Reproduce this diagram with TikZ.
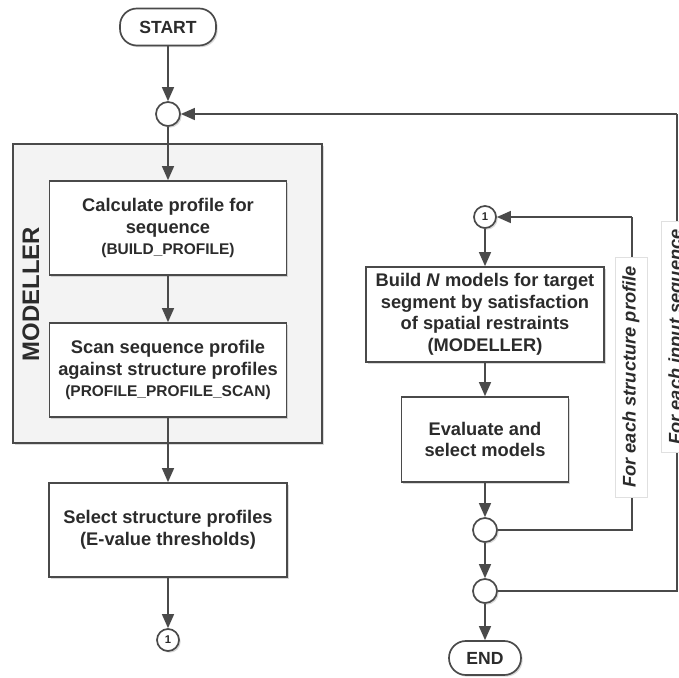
\documentclass[tikz,border=0pt]{standalone}
\usepackage{fontspec}
\setmainfont{Liberation Sans}
\usetikzlibrary{arrows.meta,shadows}
\definecolor{linegray}{HTML}{4A4A4A}
\definecolor{textgray}{HTML}{2B2B2B}
\definecolor{panelgray}{HTML}{F3F3F3}
\definecolor{tagedge}{HTML}{E0E0E0}
\newcommand{\idtag}[1]{{\fontsize{11}{13}\selectfont #1}}

\begin{document}
\begin{tikzpicture}[x=0.025cm, y=-0.025cm,
    shade/.style={drop shadow={shadow xshift=1.2pt, shadow yshift=-1.2pt, opacity=0.3}},
    stepbox/.style={draw=linegray, line width=1.2pt, fill=white, shade, align=center,
      inner sep=0pt, text=textgray, font=\bfseries\fontsize{13}{15.3}\selectfont},
    terminal/.style={draw=linegray, line width=1.2pt, fill=white, shade, rounded corners=12pt,
      inner sep=0pt, text=textgray, font=\bfseries\fontsize{12.5}{15}\selectfont},
    joint/.style={circle, draw=linegray, line width=1.2pt, fill=white, shade,
      minimum size=0.6cm, inner sep=0pt},
    pageref/.style={circle, draw=linegray, line width=1.2pt, fill=white, shade,
      minimum size=0.55cm, inner sep=0pt, text=textgray, font=\bfseries\fontsize{8}{9}\selectfont},
    looptag/.style={fill=white, draw=tagedge, line width=0.5pt, rotate=90, minimum height=0.8cm,
      inner sep=0pt, text=textgray, font=\bfseries\itshape\fontsize{13}{15}\selectfont},
    flow/.style={draw=linegray, line width=1.2pt, -{Triangle[length=10pt,width=8.5pt]}},
    loopline/.style={draw=linegray, line width=1.2pt}
  ]
  \useasboundingbox (0,0) rectangle (679,678);

  % caja MODELLER
  \node[draw=linegray, line width=1.2pt, fill=panelgray, shade, minimum width=7.725cm,
    minimum height=7.475cm, inner sep=0pt] (panel) at (167.5,293.5) {};
  \node[rotate=90, text=textgray, font=\bfseries\fontsize{17}{20}\selectfont] (paneltitle) at (31,294) {MODELLER};

  % columna izquierda
  \node[terminal, minimum width=2.4cm, minimum height=0.925cm] (start) at (168,27) {START};
  \node[joint] (j0) at (168,114) {};
  \node[stepbox, minimum width=5.925cm, minimum height=2.35cm] (prof) at (168,228)
    {Calculate profile for\\sequence\\\idtag{(BUILD\_PROFILE)}};
  \node[stepbox, minimum width=5.925cm, minimum height=2.35cm] (scan) at (168,370)
    {Scan sequence profile\\against structure profiles\\\idtag{(PROFILE\_PROFILE\_SCAN)}};
  \node[stepbox, minimum width=5.95cm, minimum height=2.35cm] (select) at (168,530)
    {Select structure profiles\\(E-value thresholds)};
  \node[pageref] (ref1a) at (168,640) {1};

  % columna derecha
  \node[pageref] (ref1b) at (485,217) {1};
  \node[stepbox, minimum width=5.95cm, minimum height=2.375cm] (build) at (485,314.5)
    {Build \textit{N} models for target\\segment by satisfaction\\of spatial restraints\\(MODELLER)};
  \node[stepbox, minimum width=4.175cm, minimum height=2.125cm] (evaluate) at (485,439.5)
    {Evaluate and\\select models};
  \node[joint] (j2) at (485,530) {};
  \node[joint] (j3) at (485,591) {};
  \node[terminal, minimum width=1.8cm, minimum height=0.85cm] (end) at (485,658) {END};

  % flechas
  \draw[flow] (start) -- (j0);
  \draw[flow] (j0) -- (prof);
  \draw[flow] (prof) -- (scan);
  \draw[flow] (scan) -- (select);
  \draw[flow] (select) -- (ref1a);
  \draw[flow] (ref1b) -- (build);
  \draw[flow] (build) -- (evaluate);
  \draw[flow] (evaluate) -- (j2);
  \draw[flow] (j2) -- (j3);
  \draw[flow] (j3) -- (end);

  % bucles
  \coordinate (kprofile) at (632,217);
  \coordinate (kinput) at (677,114);
  \draw[loopline] (j2.east) -| (kprofile);
  \draw[flow] (kprofile) -- (ref1b.east);
  \draw[loopline] (j3.east) -| (kinput);
  \draw[flow] (kinput) -- (j0.east);
  \node[looptag, minimum width=6cm] (tagprofile) at (631,377) {For each structure profile};
  \node[looptag, minimum width=5.775cm] (taginput) at (677,337) {For each input sequence};
\end{tikzpicture}
\end{document}
